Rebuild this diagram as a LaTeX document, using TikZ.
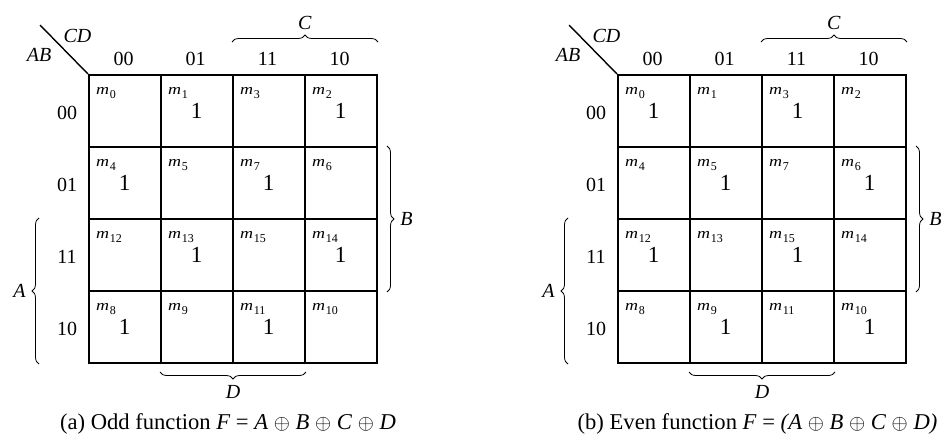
\documentclass[tikz,border=0pt]{standalone}
\usepackage{fontspec}
\setmainfont{Liberation Serif}
\usetikzlibrary{decorations.pathreplacing}
\newcommand\mlab[1]{\scalebox{1.2}[1]{\textit{m}}\kern0.6pt\raisebox{-4pt}{\fontsize{12}{12}\selectfont #1}}
\newcommand\kmap[3]{%
\begin{scope}[xshift=#2]
 \foreach \r/\ab in {0/0,1/1,2/3,3/2} {
  \foreach \c/\cd in {0/0,1/1,2/3,3/2} {
   \pgfmathtruncatemacro\mi{4*\ab+\cd}
   \node[cell] (#1-c\r\c) at (\c*72, \r*72) {};
   \node[mnode] (#1-m\r\c) at ([xshift=8pt,yshift=-20pt]#1-c\r\c.north west) {\mlab{\mi}};
  }
 }
 \foreach \rc in {#3} {
   \node[one] (#1-o\rc) at ([xshift=-0.5pt]#1-c\rc.center) {1};
 }
 \foreach \c/\t in {0/00,1/01,2/11,3/10} {
   \node[lab] (#1-col\c) at ([xshift=-1.5pt,yshift=15.5pt]#1-c0\c.north) {\t};
 }
 \foreach \r/\t in {0/00,1/01,2/11,3/10} {
   \node[lab] (#1-row\r) at ([xshift=-21pt,yshift=-2pt]#1-c\r0.west) {\t};
 }
 \coordinate (#1-d) at (-48,-49);
 \draw[line width=1.4pt] (#1-d) -- (#1-c00.north west);
 \node[lab] (#1-CD) at (-10.5,-38) {\textit{CD}};
 \node[lab] (#1-AB) at (-49,-19) {\textit{AB}};
 \draw[bracestyle] ([yshift=32pt]#1-c02.north west) -- ([yshift=32pt]#1-c03.north east)
   node[lab, midway, above=12pt] (#1-C) {\textit{C}};
 \draw[bracestyle] ([xshift=9pt]#1-c13.north east) -- ([xshift=9pt]#1-c23.south east)
   node[lab, midway, right=13pt] (#1-B) {\textit{B}};
 \draw[bracestyle] ([xshift=-49pt]#1-c30.south west) -- ([xshift=-49pt]#1-c20.north west)
   node[lab, midway, left=13pt] (#1-A) {\textit{A}};
 \draw[bracestyle] ([yshift=-8pt]#1-c32.south east) -- ([yshift=-8pt]#1-c31.south west)
   node[lab, midway, below=13pt] (#1-D) {\textit{D}};
\end{scope}}
\begin{document}
\begin{tikzpicture}[x=1pt,y=-1pt,
 cell/.style={draw, line width=2pt, minimum width=72pt, minimum height=72pt, inner sep=0pt, anchor=north west},
 lab/.style={font=\fontsize{20}{24}\selectfont, inner sep=0pt},
 one/.style={font=\fontsize{23}{26}\selectfont, inner sep=0pt},
 captext/.style={font=\fontsize{22.6}{26}\selectfont, inner sep=0pt},
 mnode/.style={font=\fontsize{15}{18}\selectfont, inner sep=0pt, anchor=base west},
 bracestyle/.style={decorate, decoration={brace, amplitude=7pt}, line width=0.8pt}]
\useasboundingbox (0,0) rectangle (948,442);
\begin{scope}[shift={(88,74)}]
\kmap{L}{0pt}{01,03,10,12,21,23,30,32}
\end{scope}
\begin{scope}[shift={(617,74)}]
\kmap{R}{0pt}{00,02,11,13,20,22,31,33}
\end{scope}
\node[captext] (capL) at (228,424) {(a) Odd function \textit{F} = \textit{A} $\oplus$ \textit{B} $\oplus$ \textit{C} $\oplus$ \textit{D}};
\node[captext] (capR) at (757.5,424) {(b) Even function \textit{F} = \textit{(A} $\oplus$ \textit{B} $\oplus$ \textit{C} $\oplus$ \textit{D)}};
\end{tikzpicture}
\end{document}
